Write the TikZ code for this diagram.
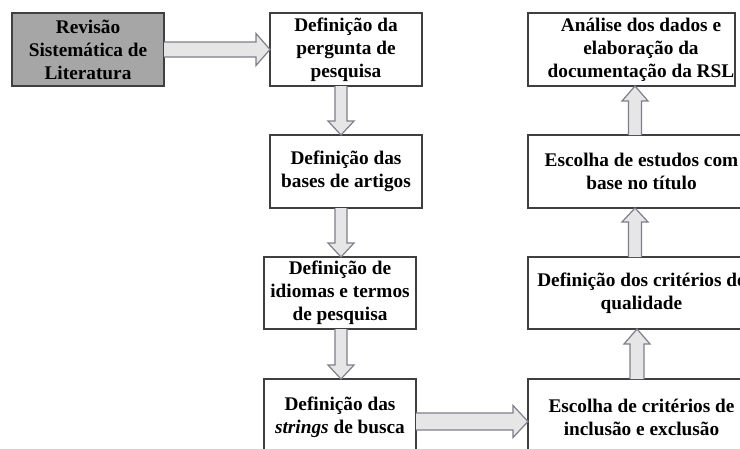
\documentclass[tikz,border=0pt]{standalone}
\usepackage{fontspec}
\setmainfont{Liberation Serif}
\usetikzlibrary{calc}
\definecolor{boxline}{HTML}{3F3F3F}
\definecolor{grayfill}{HTML}{A6A6A6}
\definecolor{arrfill}{HTML}{E6E6E6}
\definecolor{arrline}{HTML}{7F7F8C}
\tikzset{
  boxnode/.style={draw=boxline, line width=1.3pt, fill=white, inner sep=0pt, outer sep=0pt,
    rectangle, align=center, text=black, font=\fontsize{19.3}{23}\selectfont\bfseries},
  txtnode/.style={align=center, inner sep=0pt, text=black, font=\fontsize{19.3}{23}\selectfont\bfseries},
  barrow/.style={fill=arrfill, draw=arrline, line width=1.2pt, line join=miter}
}
% horizontal right arrow: from, to, y, shaft half, head half, head length
\newcommand{\harrowR}[6]{%
  \filldraw[barrow] let \p1=(#1.east), \p2=(#2.west) in
  (\x1,{-#3pt+#4pt}) -- ({\x2-#6pt},{-#3pt+#4pt}) -- ({\x2-#6pt},{-#3pt+#5pt}) -- (\x2,{-#3pt})
  -- ({\x2-#6pt},{-#3pt-#5pt}) -- ({\x2-#6pt},{-#3pt-#4pt}) -- (\x1,{-#3pt-#4pt});}
% vertical down arrow: from, to, x, shaft half, head half, head length
\newcommand{\varrowD}[6]{%
  \filldraw[barrow] let \p1=(#1.south), \p2=(#2.north) in
  ({#3pt-#4pt},\y1) -- ({#3pt-#4pt},{\y2+#6pt}) -- ({#3pt-#5pt},{\y2+#6pt}) -- (#3pt,\y2)
  -- ({#3pt+#5pt},{\y2+#6pt}) -- ({#3pt+#4pt},{\y2+#6pt}) -- ({#3pt+#4pt},\y1);}
% vertical up arrow
\newcommand{\varrowU}[6]{%
  \filldraw[barrow] let \p1=(#1.north), \p2=(#2.south) in
  ({#3pt-#4pt},\y1) -- ({#3pt-#4pt},{\y2-#6pt}) -- ({#3pt-#5pt},{\y2-#6pt}) -- (#3pt,\y2)
  -- ({#3pt+#5pt},{\y2-#6pt}) -- ({#3pt+#4pt},{\y2-#6pt}) -- ({#3pt+#4pt},\y1);}
\begin{document}
\begin{tikzpicture}[x=1pt,y=-1pt]
\useasboundingbox (0,0) rectangle (740,448);
\fill[white] (0,0) rectangle (740,448);
\clip (0,0) rectangle (740,448);
\node[boxnode, fill=grayfill, minimum width=152pt, minimum height=73pt] (n1) at (88,49.5) {Revisão\\Sistemática de\\Literatura};
\node[boxnode, minimum width=152pt, minimum height=73pt] (n2) at (346,49.5) {Definição da\\pergunta de\\pesquisa};
\node[boxnode, minimum width=152pt, minimum height=73pt] (n3) at (346,171.5) {Definição das\\bases de artigos};
\node[boxnode, minimum width=152pt, minimum height=72pt] (n4) at (340,293) {Definição de\\idiomas e termos\\de pesquisa};
\node[boxnode, minimum width=152pt, minimum height=76pt] (n5) at (340,417) {Definição das\\\textit{strings} de busca};
\node[boxnode, minimum width=227pt, minimum height=76pt] (n6) at (641.5,417) {Escolha de critérios de\\inclusão e exclusão};
\node[boxnode, minimum width=227pt, minimum height=72pt] (n7) at (641.5,293) {Definição dos critérios de\\qualidade};
\node[boxnode, minimum width=227pt, minimum height=73pt] (n8) at (641.5,171.5) {Escolha de estudos com\\base no título};
\node[boxnode, minimum width=207pt, minimum height=73pt] (n9) at (631.5,49.5) {};
\node[txtnode] (t9) at (641,49.5) {Análise dos dados e\\elaboração da\\documentação da RSL};
\harrowR{n1}{n2}{49.5}{7.5}{16}{14}
\varrowD{n2}{n3}{341}{6}{13}{14}
\varrowD{n3}{n4}{341}{6}{13}{14}
\varrowD{n4}{n5}{341}{6}{13}{14}
\harrowR{n5}{n6}{421.5}{8.5}{16}{15}
\varrowU{n6}{n7}{637}{7}{13}{15}
\varrowU{n7}{n8}{635}{6.5}{13}{14}
\varrowU{n8}{n9}{635}{6.5}{13}{15}
\end{tikzpicture}
\end{document}
